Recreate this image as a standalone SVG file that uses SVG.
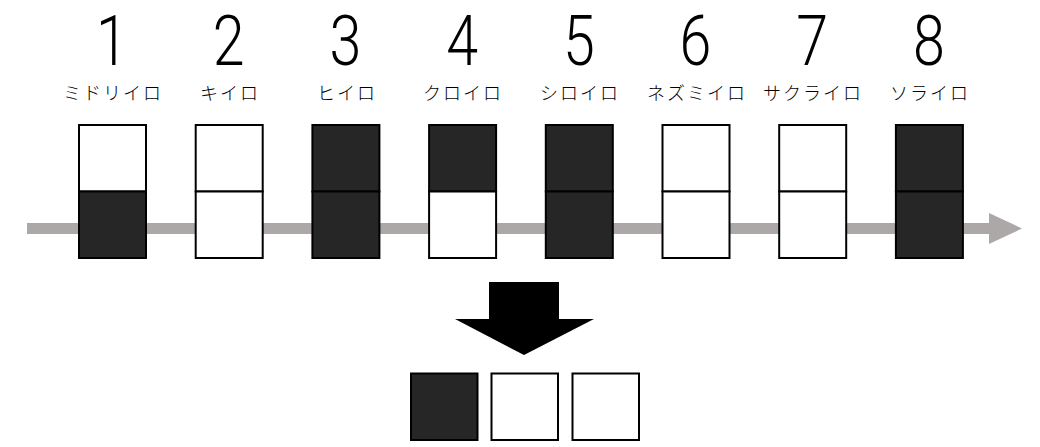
<svg xmlns="http://www.w3.org/2000/svg" width="1040" height="447" viewBox="0 0 1040 447">
<style>
.num{font-family:Roboto,"Liberation Sans",sans-serif;font-weight:300;font-size:70px;fill:#000;text-anchor:middle}
.lbl{font-family:"Noto Sans CJK JP",sans-serif;font-weight:300;font-size:18px;letter-spacing:2px;fill:#000;text-anchor:middle}
.d{fill:#262626;stroke:#000;stroke-width:2}
.w{fill:#fff;stroke:#000;stroke-width:2}
</style>
<g id="connectors">
<rect x="27" y="223" width="964" height="11" fill="#ACA8A8"/>
<polygon points="989,213 1022,228.5 989,244" fill="#ACA8A8"/>
</g>
<g id="n1"><text class="num" x="0" y="65" transform="translate(112 0) scale(0.82 1)">1</text><text class="lbl" x="113" y="100">ミドリイロ</text><rect class="w" x="79" y="125" width="67" height="66.5"/><rect class="d" x="79" y="191.5" width="67" height="66.5"/></g>
<g id="n2"><text class="num" x="0" y="65" transform="translate(228.7 0) scale(0.82 1)">2</text><text class="lbl" x="230" y="100">キイロ</text><rect class="w" x="195.7" y="125" width="67" height="66.5"/><rect class="w" x="195.7" y="191.5" width="67" height="66.5"/></g>
<g id="n3"><text class="num" x="0" y="65" transform="translate(345.4 0) scale(0.82 1)">3</text><text class="lbl" x="347" y="100">ヒイロ</text><rect class="d" x="312.4" y="125" width="67" height="66.5"/><rect class="d" x="312.4" y="191.5" width="67" height="66.5"/></g>
<g id="n4"><text class="num" x="0" y="65" transform="translate(462.1 0) scale(0.82 1)">4</text><text class="lbl" x="463" y="100">クロイロ</text><rect class="d" x="429.1" y="125" width="67" height="66.5"/><rect class="w" x="429.1" y="191.5" width="67" height="66.5"/></g>
<g id="n5"><text class="num" x="0" y="65" transform="translate(578.8 0) scale(0.82 1)">5</text><text class="lbl" x="580" y="100">シロイロ</text><rect class="d" x="545.8" y="125" width="67" height="66.5"/><rect class="d" x="545.8" y="191.5" width="67" height="66.5"/></g>
<g id="n6"><text class="num" x="0" y="65" transform="translate(695.5 0) scale(0.82 1)">6</text><text class="lbl" x="697" y="100">ネズミイロ</text><rect class="w" x="662.5" y="125" width="67" height="66.5"/><rect class="w" x="662.5" y="191.5" width="67" height="66.5"/></g>
<g id="n7"><text class="num" x="0" y="65" transform="translate(812.2 0) scale(0.82 1)">7</text><text class="lbl" x="813" y="100">サクライロ</text><rect class="w" x="779.2" y="125" width="67" height="66.5"/><rect class="w" x="779.2" y="191.5" width="67" height="66.5"/></g>
<g id="n8"><text class="num" x="0" y="65" transform="translate(928.9 0) scale(0.82 1)">8</text><text class="lbl" x="930" y="100">ソライロ</text><rect class="d" x="895.9" y="125" width="67" height="66.5"/><rect class="d" x="895.9" y="191.5" width="67" height="66.5"/></g>
<g id="down-arrow"><polygon points="489,282 559,282 559,319 594,319 524,355 455,319 489,319" fill="#000"/></g>
<g id="result"><rect class="d" x="411" y="373.5" width="66.5" height="66.5"/><rect class="w" x="491.5" y="373.5" width="66.5" height="66.5"/><rect class="w" x="572.5" y="373.5" width="66.5" height="66.5"/></g>
</svg>
